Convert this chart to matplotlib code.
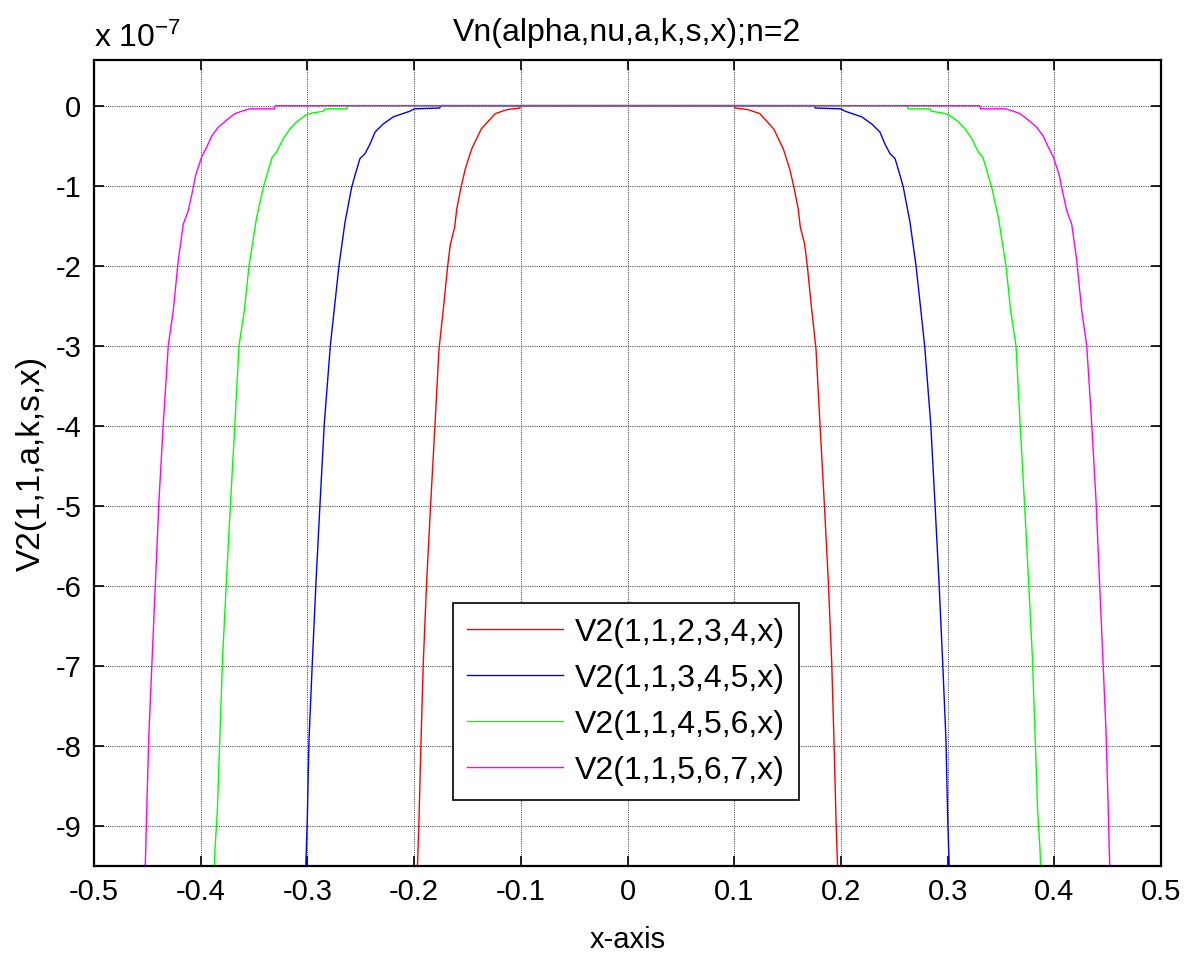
"""Vn(alpha,nu,a,k,s,x) for n=2 -- four parameter sets, MATLAB-style figure."""
import numpy as np
import matplotlib
matplotlib.use("Agg")
import matplotlib.pyplot as plt

plt.rcParams["font.family"] = ["Liberation Sans", "DejaVu Sans"]
plt.rcParams["axes.unicode_minus"] = False
plt.rcParams["mathtext.default"] = "regular"

# right half of each (even) curve; y in units of 1e-7
red_x = [0.0, 0.100, 0.101, 0.113, 0.124, 0.137, 0.146, 0.152, 0.156, 0.160, 0.162,
         0.166, 0.1685, 0.1726, 0.1767, 0.1804, 0.1845, 0.1882, 0.1914, 0.1935,
         0.1954, 0.1966, 0.1972]
red_y = [0.0, 0.0, -0.03, -0.05, -0.10, -0.29, -0.54, -0.79, -1.02, -1.29, -1.52,
         -1.73, -2.00, -2.54, -3.05, -3.98, -4.98, -5.94, -6.96, -7.93,
         -8.91, -9.41, -9.60]

blue_x = [0.0, 0.175, 0.176, 0.200, 0.204, 0.2195, 0.229, 0.2366, 0.2413, 0.246,
          0.2507, 0.2554, 0.2585, 0.2648, 0.2704, 0.2748, 0.2785, 0.2842, 0.2882,
          0.2919, 0.2954, 0.2985, 0.3001, 0.3013, 0.3018]
blue_y = [0.0, 0.0, -0.03, -0.04, -0.07, -0.14, -0.23, -0.33, -0.48, -0.60,
          -0.66, -0.87, -1.02, -1.46, -2.00, -2.54, -3.00, -3.98, -4.98,
          -5.94, -6.96, -7.93, -8.91, -9.41, -9.60]

green_x = [0.0, 0.262, 0.263, 0.2835, 0.285, 0.2945, 0.3007, 0.310, 0.3163, 0.3226,
           0.3288, 0.3329, 0.3372, 0.3413, 0.3475, 0.3547, 0.3591, 0.3641, 0.3679,
           0.3719, 0.3757, 0.3794, 0.3819, 0.3844, 0.3866, 0.3875]
green_y = [0.0, 0.0, -0.04, -0.04, -0.07, -0.09, -0.11, -0.20, -0.29, -0.41,
           -0.58, -0.64, -0.83, -1.02, -1.39, -2.00, -2.56, -3.00, -3.96,
           -4.93, -5.89, -6.87, -7.83, -8.81, -9.29, -9.60]

magenta_x = [0.0, 0.330, 0.331, 0.354, 0.3616, 0.3679, 0.3757, 0.3835, 0.3897, 0.3944,
             0.3991, 0.4047, 0.4069, 0.4116, 0.4163, 0.421, 0.4257, 0.4304, 0.435,
             0.4391, 0.4422, 0.4454, 0.4485, 0.4506, 0.4515, 0.4522]
magenta_y = [0.0, 0.0, -0.04, -0.04, -0.07, -0.10, -0.18, -0.27, -0.38, -0.52,
             -0.64, -0.87, -1.02, -1.31, -1.48, -1.93, -2.56, -3.00, -3.96,
             -4.93, -5.89, -6.87, -7.83, -8.81, -9.29, -9.60]

labels = ["V2(1,1,2,3,4,x)", "V2(1,1,3,4,5,x)", "V2(1,1,4,5,6,x)", "V2(1,1,5,6,7,x)"]
colors = ["#ff0000", "#0000ff", "#00ff00", "#ff00ff"]

x_ticks = [-0.5, -0.4, -0.3, -0.2, -0.1, 0, 0.1, 0.2, 0.3, 0.4, 0.5]
x_tick_labels = ["-0.5", "-0.4", "-0.3", "-0.2", "-0.1", "0", "0.1", "0.2", "0.3", "0.4", "0.5"]
y_ticks = [-9, -8, -7, -6, -5, -4, -3, -2, -1, 0]


def full_curve(xs, ys):
    xs, ys = np.asarray(xs), np.asarray(ys)
    # the curves are symmetric about x=0
    return np.concatenate([-xs[::-1], xs[1:]]), np.concatenate([ys[::-1], ys[1:]])


fig = plt.figure(figsize=(11.94, 9.58), dpi=100)
ax = fig.add_axes([94 / 1194, 92 / 958, 1067 / 1194, 806 / 958])

series = [(red_x, red_y), (blue_x, blue_y), (green_x, green_y), (magenta_x, magenta_y)]
for (xs, ys), lab, col in zip(series, labels, colors):
    fx, fy = full_curve(xs, ys)
    ax.plot(fx, fy, color=col, lw=1.0, label=lab)

ax.set_xlim(-0.5, 0.5)
ax.set_ylim(-9.5, 0.57)
ax.set_xticks(x_ticks)
ax.set_xticklabels(x_tick_labels)
ax.set_yticks(y_ticks)
ax.grid(True, color="#555555", linestyle=(0, (1, 1)), linewidth=0.8)
ax.tick_params(direction="in", top=True, right=True, length=7, width=1.2,
               labelsize=21, pad=9)
for sp in ax.spines.values():
    sp.set_linewidth(1.6)

ax.set_title("Vn(alpha,nu,a,k,s,x);n=2", fontsize=23, pad=14)
ax.set_xlabel("x-axis", fontsize=21, labelpad=14)
ax.set_ylabel("V2(1,1,a,k,s,x)", fontsize=24, labelpad=6)
ax.text(0.0, 1.008, r"x 10$^{-7}$", transform=ax.transAxes, fontsize=23,
        ha="left", va="bottom")

leg = ax.legend(loc="upper left", bbox_to_anchor=(0.3365, 0.326), fontsize=23,
                handlelength=3.0, frameon=True, fancybox=False, framealpha=1,
                borderpad=0.45, labelspacing=0.5, handletextpad=0.35,
                borderaxespad=0)
leg.get_frame().set_edgecolor("black")
leg.get_frame().set_linewidth(1.2)

fig.savefig("out.png", dpi=100)
